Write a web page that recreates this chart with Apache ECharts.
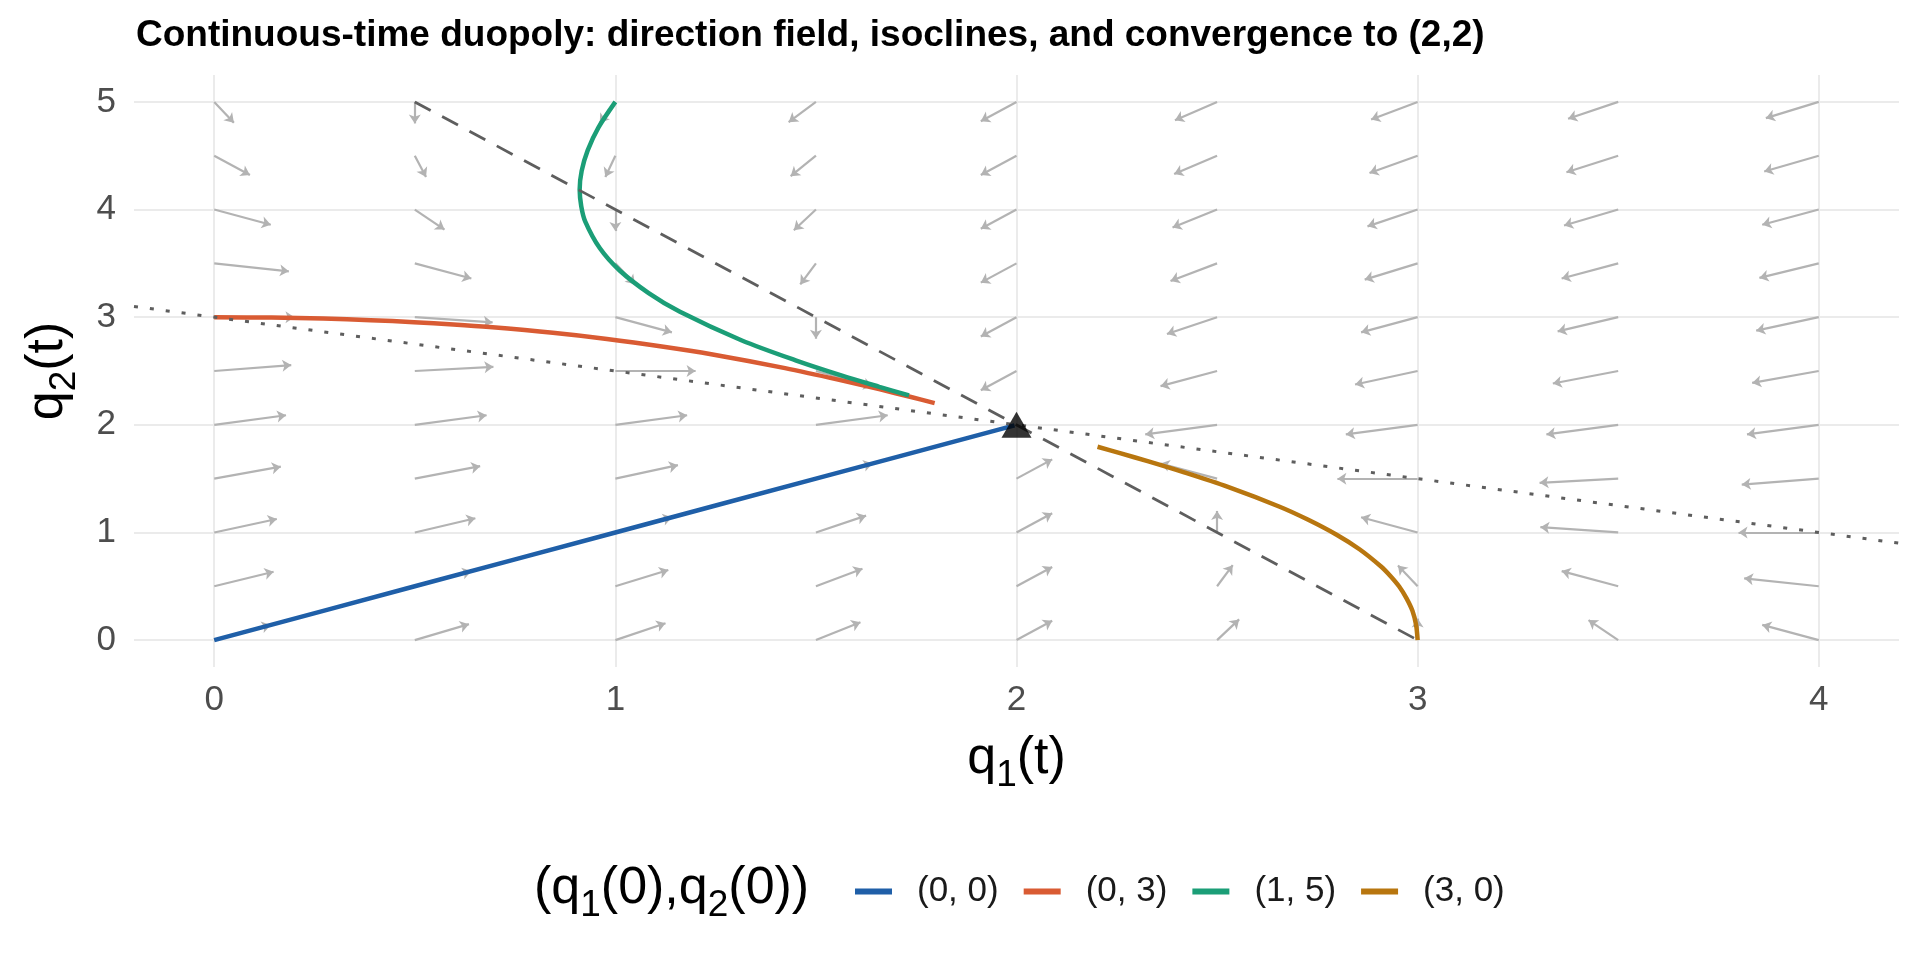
<!DOCTYPE html>
<html>
<head>
<meta charset="utf-8">
<title>Continuous-time duopoly</title>
<script src="https://cdn.jsdelivr.net/npm/echarts@6/dist/echarts.min.js"></script>
<style>
  html, body { margin: 0; padding: 0; background: #fff; }
  #chart { width: 1920px; height: 960px; }
</style>
</head>
<body>
<div id="chart"></div>
<script>
// grid of the direction field
const fieldQ1 = [0, 0.5, 1, 1.5, 2, 2.5, 3, 3.5, 4];
const fieldQ2 = [0, 0.5, 1, 1.5, 2, 2.5, 3, 3.5, 4, 4.5, 5];

// arrow offsets (rows = q2, columns = q1), null where there is no arrow
const arrowDx = [
    [0.141, 0.135, 0.125, 0.111, 0.089, 0.055, 0, -0.074, -0.141],
    [0.148, 0.141, 0.132, 0.116, 0.089, 0.039, -0.049, -0.141, -0.186],
    [0.156, 0.151, 0.141, 0.125, 0.089, 0, -0.141, -0.194, -0.2],
    [0.166, 0.163, 0.156, 0.141, 0.089, -0.141, -0.2, -0.196, -0.192],
    [0.179, 0.179, 0.179, 0.179, null, -0.179, -0.179, -0.179, -0.179],
    [0.192, 0.196, 0.2, 0.141, -0.089, -0.141, -0.156, -0.163, -0.166],
    [0.2, 0.194, 0.141, 0, -0.089, -0.125, -0.141, -0.151, -0.156],
    [0.186, 0.141, 0.049, -0.039, -0.089, -0.116, -0.132, -0.141, -0.148],
    [0.141, 0.074, 0, -0.055, -0.089, -0.111, -0.125, -0.135, -0.141],
    [0.089, 0.028, -0.025, -0.063, -0.089, -0.107, -0.12, -0.129, -0.136],
    [0.049, 0, -0.039, -0.068, -0.089, -0.105, -0.116, -0.125, -0.132]
];
const arrowDy = [
    [0.141, 0.148, 0.156, 0.166, 0.179, 0.192, 0.2, 0.186, 0.141],
    [0.135, 0.141, 0.151, 0.163, 0.179, 0.196, 0.194, 0.141, 0.074],
    [0.125, 0.132, 0.141, 0.156, 0.179, 0.2, 0.141, 0.049, 0],
    [0.111, 0.116, 0.125, 0.141, 0.179, 0.141, 0, -0.039, -0.055],
    [0.089, 0.089, 0.089, 0.089, null, -0.089, -0.089, -0.089, -0.089],
    [0.055, 0.039, 0, -0.141, -0.179, -0.141, -0.125, -0.116, -0.111],
    [0, -0.049, -0.141, -0.2, -0.179, -0.156, -0.141, -0.132, -0.125],
    [-0.074, -0.141, -0.194, -0.196, -0.179, -0.163, -0.151, -0.141, -0.135],
    [-0.141, -0.186, -0.2, -0.192, -0.179, -0.166, -0.156, -0.148, -0.141],
    [-0.179, -0.198, -0.198, -0.19, -0.179, -0.169, -0.16, -0.153, -0.147],
    [-0.194, -0.2, -0.196, -0.188, -0.179, -0.17, -0.163, -0.156, -0.151]
];

// isoclines
const dashedIso = [[0.5, 5], [3, 0]];
const dottedIso = [[-0.2, 3.1], [4.2, 0.9]];

// trajectories
const trajNames = ['(0, 0)', '(0, 3)', '(1, 5)', '(3, 0)'];
const trajColors = ['#1f5fa8', '#d95b33', '#1b9e77', '#b8760f'];
const traj00 = [[0, 0], [0.5, 0.5], [1, 1], [1.5, 1.5], [1.995, 1.995]];
const traj03 = [
    [0, 3], [0.143, 2.996], [0.272, 2.987], [0.39, 2.972], [0.498, 2.954],
    [0.596, 2.932], [0.686, 2.908], [0.844, 2.855], [0.979, 2.798], [1.12, 2.726],
    [1.239, 2.656], [1.423, 2.527], [1.558, 2.418], [1.66, 2.329], [1.737, 2.258],
    [1.796, 2.202]
];
const traj15 = [
    [1, 5], [0.958, 4.763], [0.931, 4.55], [0.916, 4.359], [0.911, 4.186],
    [0.915, 4.03], [0.925, 3.888], [0.961, 3.642], [1.01, 3.436], [1.083, 3.224],
    [1.161, 3.05], [1.314, 2.786], [1.451, 2.597], [1.565, 2.457], [1.658, 2.353],
    [1.732, 2.273]
];
const traj30 = [
    [3, 0], [2.996, 0.143], [2.987, 0.272], [2.972, 0.39], [2.954, 0.498],
    [2.932, 0.596], [2.908, 0.686], [2.855, 0.844], [2.798, 0.979], [2.726, 1.12],
    [2.656, 1.239], [2.527, 1.423], [2.418, 1.558], [2.329, 1.66], [2.258, 1.737],
    [2.202, 1.796]
];
const equilibrium = [[2, 2]];

const xTicks = [0, 1, 2, 3, 4];
const yTicks = [0, 1, 2, 3, 4, 5];

const FONT = '"Liberation Sans", Arial, sans-serif';

// arrows from the field arrays
const arrowData = [];
fieldQ2.forEach((q2, i) => {
    fieldQ1.forEach((q1, j) => {
        const dx = arrowDx[i][j];
        const dy = arrowDy[i][j];
        if (dx === null) return;
        arrowData.push({ coords: [[q1, q2], [q1 + dx, q2 + dy]] });
    });
});

// q with a lowered subscript (top padding pushes the small digit down)
const subRich = {
    m: { fontFamily: FONT, fontSize: 52, fontWeight: 'normal', lineHeight: 60, color: '#000' },
    s: { fontFamily: FONT, fontSize: 37, fontWeight: 'normal', lineHeight: 30, color: '#000', padding: [34, 0, 0, 0] }
};

const chart = echarts.init(document.getElementById('chart'));

const trajSeries = [traj00, traj03, traj15, traj30].map((d, k) => ({
    name: trajNames[k],
    type: 'line',
    data: d,
    showSymbol: false,
    symbol: 'none',
    smooth: 0.3,
    z: 3,
    lineStyle: { color: trajColors[k], width: 4.5 },
    itemStyle: { color: trajColors[k] },
    silent: true
}));

const option = {
    animation: false,
    backgroundColor: '#fff',
    title: [
        {
            text: 'Continuous-time duopoly: direction field, isoclines, and convergence to (2,2)',
            left: 131,
            top: 12,
            textStyle: { fontFamily: FONT, fontSize: 37, fontWeight: 'bold', color: '#000' }
        },
        {
            text: '{m|(q}{s|1}{m|(0),q}{s|2}{m|(0))}',
            left: 529,
            top: 854,
            textStyle: { fontWeight: 'normal', rich: subRich }
        }
    ],
    legend: {
        data: trajNames,
        left: 850,
        top: 869,
        icon: 'rect',
        itemWidth: 37,
        itemHeight: 6,
        itemGap: 25,
        textStyle: { fontFamily: FONT, fontSize: 35, color: '#1a1a1a', padding: [0, 0, 0, 20] }
    },
    grid: {
        left: 134,
        right: 21,
        top: 75,
        bottom: 293,
        outerBoundsMode: 'none'
    },
    xAxis: {
        type: 'value',
        min: -0.2,
        max: 4.2,
        name: '{m|q}{s|1}{m|(t)}',
        nameLocation: 'middle',
        nameGap: 59,
        nameTextStyle: { rich: subRich },
        axisLine: { show: false },
        axisTick: { show: false, customValues: xTicks },
        axisLabel: {
            customValues: xTicks,
            fontFamily: FONT,
            fontSize: 35,
            color: '#4d4d4d',
            margin: 16
        },
        splitLine: { show: true, lineStyle: { color: '#ebebeb', width: 2 } }
    },
    yAxis: {
        type: 'value',
        min: -0.25,
        max: 5.25,
        name: '{m|q}{s|2}{m|(t)}',
        nameLocation: 'middle',
        nameRotate: 90,
        nameGap: 56,
        nameTextStyle: { rich: subRich },
        axisLine: { show: false },
        axisTick: { show: false, customValues: yTicks },
        axisLabel: {
            customValues: yTicks,
            fontFamily: FONT,
            fontSize: 35,
            color: '#4d4d4d',
            margin: 18
        },
        splitLine: { show: true, lineStyle: { color: '#ebebeb', width: 2 } }
    },
    series: [
        {
            name: 'field',
            type: 'lines',
            coordinateSystem: 'cartesian2d',
            data: arrowData,
            symbol: ['none', 'arrow'],
            symbolSize: 9,
            silent: true,
            z: 2,
            lineStyle: { color: '#b3b3b3', width: 2.2, opacity: 1 }
        },
        ...trajSeries,
        {
            name: 'dq1 isocline',
            type: 'line',
            data: dashedIso,
            symbol: 'none',
            silent: true,
            z: 4,
            lineStyle: { color: '#5e5e5e', width: 2.8, type: [18, 13] }
        },
        {
            name: 'dq2 isocline',
            type: 'line',
            data: dottedIso,
            symbol: 'none',
            silent: true,
            z: 4,
            lineStyle: { color: '#5e5e5e', width: 3, type: [4, 12] }
        },
        {
            name: 'equilibrium',
            type: 'scatter',
            data: equilibrium,
            symbol: 'triangle',
            symbolSize: [30, 26],
            silent: true,
            z: 5,
            itemStyle: { color: '#000' }
        }
    ]
};

chart.setOption(option);
</script>
</body>
</html>
